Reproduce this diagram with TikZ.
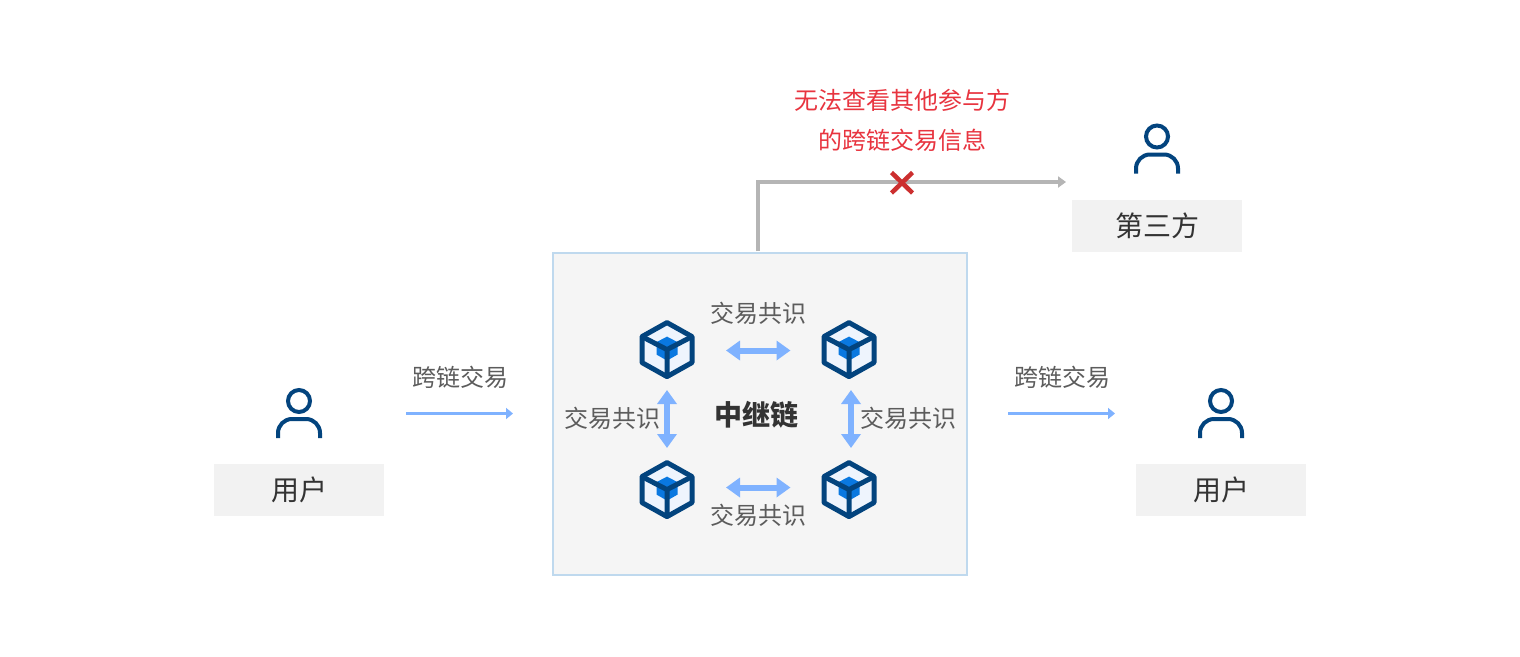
\documentclass[tikz,border=0pt]{standalone}
\usepackage{fontspec}
\setmainfont{Noto Sans CJK SC}
\usetikzlibrary{arrows.meta}
\definecolor{navy}{HTML}{03447E}
\definecolor{cubeblue}{HTML}{0A78E0}
\definecolor{cubefill}{HTML}{EEF4FD}
\definecolor{flow}{HTML}{7FB2FF}
\definecolor{greyline}{HTML}{B5B5B5}
\definecolor{boxfill}{HTML}{F5F5F5}
\definecolor{boxline}{HTML}{BFD9EE}
\definecolor{tagfill}{HTML}{F2F2F2}
\definecolor{labelgrey}{HTML}{5C5C5C}
\definecolor{namegrey}{HTML}{333333}
\definecolor{warnred}{HTML}{E8343F}
\definecolor{crossred}{HTML}{CC2F2F}
\tikzset{
  x=1pt,y=-1pt,
  every node/.style={inner sep=0pt,outer sep=0pt},
  relaybox/.style={draw=boxline,line width=2pt,fill=boxfill,minimum width=414pt,minimum height=322pt},
  tag/.style={fill=tagfill,minimum width=170pt,minimum height=52pt,text=namegrey,font=\fontsize{28}{30}\selectfont},
  edgelabel/.style={text=labelgrey,font=\fontsize{24}{28}\selectfont},
  warnlabel/.style={text=warnred,font=\fontsize{24}{28}\selectfont},
  titlelabel/.style={text=namegrey,font=\fontsize{28}{30}\selectfont\bfseries},
  thinflow/.style={draw=flow,line width=3pt,-{Triangle[length=7pt,width=11pt]}},
  duplex/.style={draw=flow,line width=6pt,{Triangle[length=14pt,width=19pt]}-{Triangle[length=14pt,width=19pt]}},
  greyflow/.style={draw=greyline,line width=4pt,-{Triangle[length=8pt,width=11pt]}},
  crossmark/.style={draw=crossred,line width=4.5pt},
  person/.pic={
    \draw[navy,line width=4pt] (0,-37) circle[radius=11];
    \draw[navy,line width=4pt] (-21,0) -- (-21,-5) arc[start angle=180,end angle=90,x radius=14,y radius=-14] -- (7,-19) arc[start angle=90,end angle=0,x radius=14,y radius=-14] -- (21,0);
  },
  cube/.pic={
    \fill[cubefill] (0,-27) -- (25,-13) -- (25,13) -- (0,27) -- (-25,13) -- (-25,-13) -- cycle;
    \fill[cubeblue] (0,-13) -- (10.5,-7.5) -- (10.5,5) -- (0,11) -- (-10.5,5) -- (-10.5,-7.5) -- cycle;
    \draw[navy,line width=5pt,line join=round] (0,-27) -- (25,-13) -- (25,13) -- (0,27) -- (-25,13) -- (-25,-13) -- cycle;
    \draw[navy,line width=5pt,line join=round] (-25,-13) -- (0,0) -- (25,-13) (0,0) -- (0,27);
  }
}
\begin{document}
\begin{tikzpicture}
\useasboundingbox (0,0) rectangle (1520,656);
\fill[white] (0,0) rectangle (1520,656);

\node[relaybox] (relay) at (760,414) {};
\node[titlelabel] (relayname) at (756,415) {中继链};

% users
\pic at (299,438) {person};
\node[tag] (userL) at (299,490) {用户};
\pic at (1221,438) {person};
\node[tag] (userR) at (1221,490) {用户};
\pic at (1157,173.5) {person};
\node[tag] (third) at (1157,226) {第三方};

% cubes
\coordinate (cubeTL) at (667,349.6);
\coordinate (cubeTR) at (849,349.6);
\coordinate (cubeBL) at (667,489.6);
\coordinate (cubeBR) at (849,489.6);
\pic at (cubeTL) {cube};
\pic at (cubeTR) {cube};
\pic at (cubeBL) {cube};
\pic at (cubeBR) {cube};

% transaction flows
\coordinate (inA) at (406,413.5);
\coordinate (inB) at (513,413.5);
\coordinate (outA) at (1008,413.5);
\coordinate (outB) at (1115,413.5);
\draw[thinflow] (inA) -- (inB);
\draw[thinflow] (outA) -- (outB);
\node[edgelabel] (inlabel) at (460,377.5) {跨链交易};
\node[edgelabel] (outlabel) at (1062,377.5) {跨链交易};

% consensus arrows
\coordinate (topA) at (726,350.5);
\coordinate (topB) at (790.5,350.5);
\coordinate (botA) at (726,487.5);
\coordinate (botB) at (790.5,487.5);
\coordinate (leftA) at (667,390);
\coordinate (leftB) at (667,448);
\coordinate (rightA) at (851,390);
\coordinate (rightB) at (851,448);
\draw[duplex] (topA) -- (topB);
\draw[duplex] (botA) -- (botB);
\draw[duplex] (leftA) -- (leftB);
\draw[duplex] (rightA) -- (rightB);
\node[edgelabel] (consT) at (758,313.5) {交易共识};
\node[edgelabel] (consB) at (758,515.5) {交易共识};
\node[edgelabel] (consL) at (612,418) {交易共识};
\node[edgelabel] (consR) at (908,418) {交易共识};

% blocked path
\coordinate (gStart) at (757.5,251);
\coordinate (gBend) at (757.5,182);
\coordinate (gEnd) at (1066,182);
\draw[greyflow] (gStart) -- (gBend) -- (gEnd);
\coordinate (xa) at (891.5,172.5);
\coordinate (xb) at (912.5,193);
\coordinate (xc) at (912.5,172.5);
\coordinate (xd) at (891.5,193);
\draw[crossmark] (xa) -- (xb) (xc) -- (xd);
\node[warnlabel] (warn1) at (902,100) {无法查看其他参与方};
\node[warnlabel] (warn2) at (902,140) {的跨链交易信息};
\end{tikzpicture}
\end{document}
